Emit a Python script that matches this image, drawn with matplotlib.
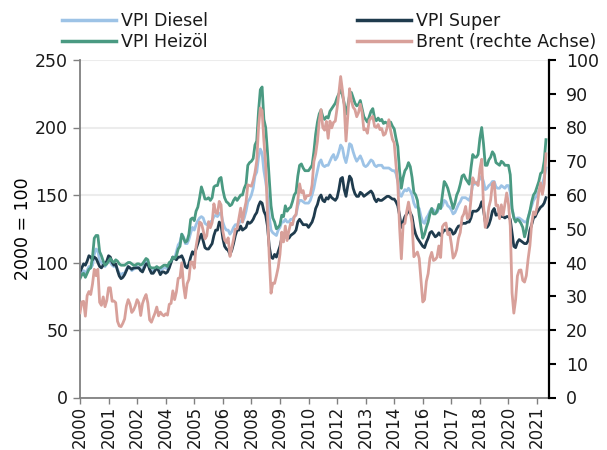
import matplotlib.pyplot as plt
import numpy as np
from matplotlib.lines import Line2D

# monthly values, Jan 2000 - Oct 2021 (VPI: 2000 = 100, Brent in EUR)
diesel = [90, 92, 94, 92, 94, 97, 96, 98, 106, 110, 109, 101,
          100, 98, 97, 99, 102, 100, 98, 97, 98, 95, 92, 91,
          92, 92, 95, 97, 96, 94, 95, 96, 97, 96, 94, 95,
          98, 101, 100, 95, 93, 94, 95, 96, 95, 94, 95, 96,
          96, 95, 98, 100, 104, 103, 108, 113, 115, 121, 119, 114,
          114, 117, 122, 126, 124, 128, 131, 133, 134, 133, 129, 128,
          129, 130, 131, 134, 135, 134, 136, 137, 130, 126, 124, 124,
          121, 123, 126, 128, 128, 129, 131, 130, 133, 138, 145, 147,
          150, 155, 164, 167, 178, 184, 181, 168, 160, 150, 134, 124,
          122, 121, 120, 124, 126, 130, 130, 132, 130, 130, 132, 132,
          134, 135, 142, 146, 146, 145, 144, 144, 144, 146, 150, 155,
          162, 168, 174, 176, 172, 171, 172, 172, 175, 178, 180, 176,
          178, 182, 187, 185, 178, 174, 180, 188, 187, 182, 178, 175,
          177, 179, 176, 172, 171, 172, 174, 176, 175, 172, 171, 172,
          172, 172, 170, 170, 170, 170, 169, 168, 168, 166, 160, 150,
          149, 152, 154, 153, 155, 153, 150, 144, 141, 141, 140, 134,
          130, 129, 133, 135, 138, 140, 139, 138, 137, 140, 140, 142,
          146, 145, 142, 141, 139, 136, 137, 140, 143, 145, 148, 148,
          148, 147, 146, 150, 158, 158, 159, 160, 162, 164, 160, 154,
          155, 157, 158, 160, 160, 156, 155, 155, 157, 156, 155, 157,
          157, 152, 140, 134, 132, 133, 133, 132, 131, 130, 130, 133,
          138, 142, 146, 148, 150, 153, 156, 158, 163, 170]

superb = [93, 96, 99, 98, 101, 105, 104, 102, 104, 103, 100, 97,
          96, 98, 99, 101, 105, 104, 100, 98, 99, 94, 90, 88,
          89, 91, 94, 97, 96, 95, 96, 96, 96, 96, 94, 93,
          96, 99, 99, 95, 92, 92, 94, 96, 94, 91, 93, 93,
          92, 93, 96, 100, 104, 103, 102, 104, 104, 105, 102, 97,
          96, 99, 104, 108, 106, 110, 114, 118, 121, 116, 111, 110,
          110, 112, 114, 120, 124, 124, 130, 128, 118, 112, 110, 109,
          106, 109, 114, 120, 124, 124, 127, 124, 125, 126, 130, 129,
          130, 132, 135, 137, 142, 145, 144, 138, 135, 127, 112, 104,
          103, 106, 104, 108, 112, 118, 118, 121, 118, 118, 120, 121,
          122, 124, 130, 132, 130, 128, 128, 128, 126, 128, 130, 134,
          140, 143, 148, 150, 146, 145, 148, 147, 150, 148, 147, 146,
          148, 154, 162, 163, 154, 149, 157, 164, 162, 155, 151, 149,
          149, 152, 151, 149, 150, 151, 152, 153, 151, 147, 145, 147,
          146, 146, 147, 148, 149, 149, 148, 147, 147, 145, 142, 135,
          126, 130, 134, 136, 138, 137, 134, 126, 121, 118, 116, 114,
          112, 111, 115, 118, 122, 123, 121, 119, 120, 122, 120, 122,
          124, 124, 123, 125, 124, 121, 122, 125, 127, 127, 129, 129,
          129, 130, 130, 133, 138, 138, 138, 139, 141, 145, 139, 130,
          126, 128, 132, 138, 140, 135, 136, 134, 134, 134, 133, 134,
          134, 132, 122, 112, 111, 115, 117, 116, 115, 114, 114, 116,
          124, 128, 133, 134, 137, 139, 141, 142, 144, 148]

heizoel = [88, 91, 92, 89, 92, 95, 96, 104, 118, 120, 120, 108,
           105, 101, 98, 99, 101, 103, 101, 100, 102, 101, 99, 98,
           98, 98, 99, 100, 100, 99, 98, 98, 99, 99, 98, 99,
           101, 103, 102, 97, 96, 96, 96, 97, 96, 96, 97, 98,
           98, 97, 100, 101, 104, 103, 105, 110, 112, 121, 118, 115,
           116, 121, 132, 133, 131, 138, 141, 148, 156, 152, 147, 147,
           148, 146, 148, 156, 157, 157, 162, 163, 154, 148, 145, 144,
           142, 143, 146, 148, 146, 148, 150, 150, 155, 158, 172, 174,
           175, 177, 187, 190, 212, 228, 230, 206, 200, 182, 162, 142,
           133, 130, 125, 126, 128, 135, 134, 142, 138, 140, 141, 145,
           150, 152, 164, 172, 173, 170, 168, 168, 168, 170, 172, 182,
           195, 204, 210, 213, 208, 206, 208, 207, 212, 214, 216, 218,
           222, 225, 228, 224, 218, 210, 216, 224, 226, 222, 218, 216,
           217, 220, 214, 208, 206, 204, 208, 212, 214, 207, 205, 207,
           205, 206, 203, 204, 203, 204, 204, 201, 199, 192, 186, 168,
           155, 163, 168, 170, 174, 171, 163, 152, 150, 146, 135, 126,
           118, 121, 126, 130, 136, 140, 136, 136, 138, 143, 140, 150,
           160, 158, 155, 150, 145, 140, 144, 150, 153, 158, 164, 165,
           162, 160, 158, 170, 180, 178, 178, 180, 192, 200, 188, 172,
           172, 176, 178, 182, 180, 174, 173, 172, 175, 174, 172, 172,
           172, 165, 140, 133, 130, 132, 131, 129, 126, 119, 124, 133,
           138, 145, 150, 152, 156, 160, 166, 167, 175, 191]

brent = [25.1, 28.3, 28.5, 24.1, 30.2, 31.4, 30.5, 33.6, 38.0, 36.1, 38.0, 28.2,
         27.3, 29.8, 26.9, 28.7, 32.5, 32.5, 28.5, 28.6, 28.1, 22.6, 21.2, 21.0,
         22.0, 23.3, 27.1, 29.0, 27.7, 25.2, 25.9, 27.2, 29.0, 28.0, 24.3, 27.8,
         29.4, 30.5, 28.0, 23.0, 22.3, 23.7, 25.0, 26.8, 24.2, 25.3, 24.6, 24.2,
         24.8, 24.4, 27.6, 27.9, 31.6, 29.0, 31.3, 35.3, 35.5, 39.9, 33.2, 29.5,
         33.7, 35.0, 40.2, 40.1, 38.3, 44.7, 47.8, 52.0, 51.6, 49.5, 47.0, 47.9,
         52.1, 50.3, 51.8, 57.4, 54.8, 54.5, 58.1, 57.1, 49.3, 46.7, 45.9, 47.3,
         41.8, 44.2, 46.9, 49.9, 50.0, 53.1, 56.1, 52.0, 55.5, 57.9, 63.0, 62.8,
         62.6, 64.3, 66.6, 70.1, 80.1, 85.8, 85.0, 76.1, 69.0, 54.6, 41.8, 30.9,
         33.9, 33.8, 36.0, 38.5, 42.4, 49.0, 46.1, 50.8, 46.5, 49.4, 51.6, 51.2,
         53.5, 54.3, 58.4, 63.3, 60.7, 61.3, 58.7, 59.8, 59.8, 60.1, 63.0, 69.9,
         72.2, 76.0, 81.9, 85.3, 80.0, 79.2, 81.8, 76.8, 81.9, 79.9, 81.5, 81.9,
         85.7, 90.2, 95.1, 91.0, 86.2, 76.0, 83.5, 91.5, 87.9, 86.0, 85.3, 83.2,
         84.4, 86.9, 84.5, 79.3, 79.6, 78.3, 82.1, 82.8, 83.3, 80.3, 80.0, 80.9,
         79.4, 79.7, 77.7, 78.1, 79.9, 82.3, 79.0, 76.5, 75.4, 68.9, 63.4, 50.5,
         41.1, 51.2, 51.6, 55.1, 57.9, 54.9, 51.6, 41.7, 42.4, 43.1, 41.2, 34.9,
         28.3, 29.0, 34.4, 36.7, 41.3, 43.0, 40.6, 40.9, 41.6, 44.9, 41.5, 50.6,
         51.4, 51.7, 48.3, 48.8, 45.5, 41.3, 42.1, 43.8, 47.2, 48.9, 53.4, 54.4,
         56.6, 53.0, 53.5, 58.7, 65.1, 63.7, 63.6, 62.8, 67.7, 70.6, 57.0, 50.4,
         52.0, 56.4, 58.5, 63.3, 63.8, 56.9, 57.0, 53.0, 57.1, 54.0, 57.2, 60.6,
         57.3, 50.9, 31.0, 25.0, 29.0, 36.0, 37.7, 37.8, 34.7, 34.2, 36.1, 41.0,
         45.0, 51.5, 55.0, 54.2, 56.4, 60.7, 63.6, 60.2, 63.3, 72.2]

labels = ['VPI Diesel', 'VPI Heizöl', 'VPI Super', 'Brent (rechte Achse)']
colors = ['#9dc3e6', '#4a9a82', '#1f3b4d', '#d8a09a']

months = np.arange(len(brent))
tick_months = np.arange(0, 257, 16)
tick_labels = [str(2000 + m // 12) for m in tick_months]

plt.rcParams['font.family'] = 'DejaVu Sans'
plt.rcParams['font.size'] = 12.5
plt.rcParams['text.color'] = '#1a1a1a'

fig = plt.figure(figsize=(6.07, 4.5), dpi=100)
ax = fig.add_axes([80/607, 1 - 397.5/450, 469/607, 337.5/450])
ax2 = ax.twinx()

ax.plot(months, diesel, color=colors[0], lw=2)
ax.plot(months, superb, color=colors[2], lw=2)
ax.plot(months, heizoel, color=colors[1], lw=2)
ax2.plot(months, brent, color=colors[3], lw=2)

ax.set_xlim(0, 262.7)
ax.set_ylim(0, 250)
ax.set_yticks(range(0, 251, 50))
ax2.set_ylim(0, 100)
ax2.set_yticks(range(0, 101, 10))
ax.set_xticks(tick_months)
ax.set_xticklabels(tick_labels, rotation=90, fontsize=12)

ax.grid(axis='y', color='#ececec', lw=1.5)
ax.set_axisbelow(True)

for s in ['top', 'right']:
    ax.spines[s].set_visible(False)
for s in ['top', 'left', 'bottom']:
    ax2.spines[s].set_visible(False)
ax.spines['left'].set_color('#808080')
ax.spines['bottom'].set_color('#808080')
ax.spines['left'].set_linewidth(1.3)
ax.spines['bottom'].set_linewidth(1.3)
ax2.spines['right'].set_color('black')
ax2.spines['right'].set_linewidth(1.6)

ax.tick_params(axis='both', colors='#808080', length=5, width=1, labelcolor='#1a1a1a')
ax.tick_params(axis='x', length=4, pad=2)
ax2.tick_params(axis='y', colors='black', length=5, width=1.5, pad=7, labelcolor='#1a1a1a')

ax.set_ylabel('2000 = 100', labelpad=2)
ax2.set_ylabel('In €', labelpad=6)

handles = [Line2D([], [], color=c, lw=2.5) for c in colors]
fig.legend(handles, labels, ncol=2, loc='upper left', bbox_to_anchor=(62/607, 1 - 12/450),
           frameon=False, handlelength=3.1, handletextpad=0.3, columnspacing=8.6,
           labelspacing=0.15, borderpad=0, borderaxespad=0)

fig.savefig('out.png', dpi=100)
